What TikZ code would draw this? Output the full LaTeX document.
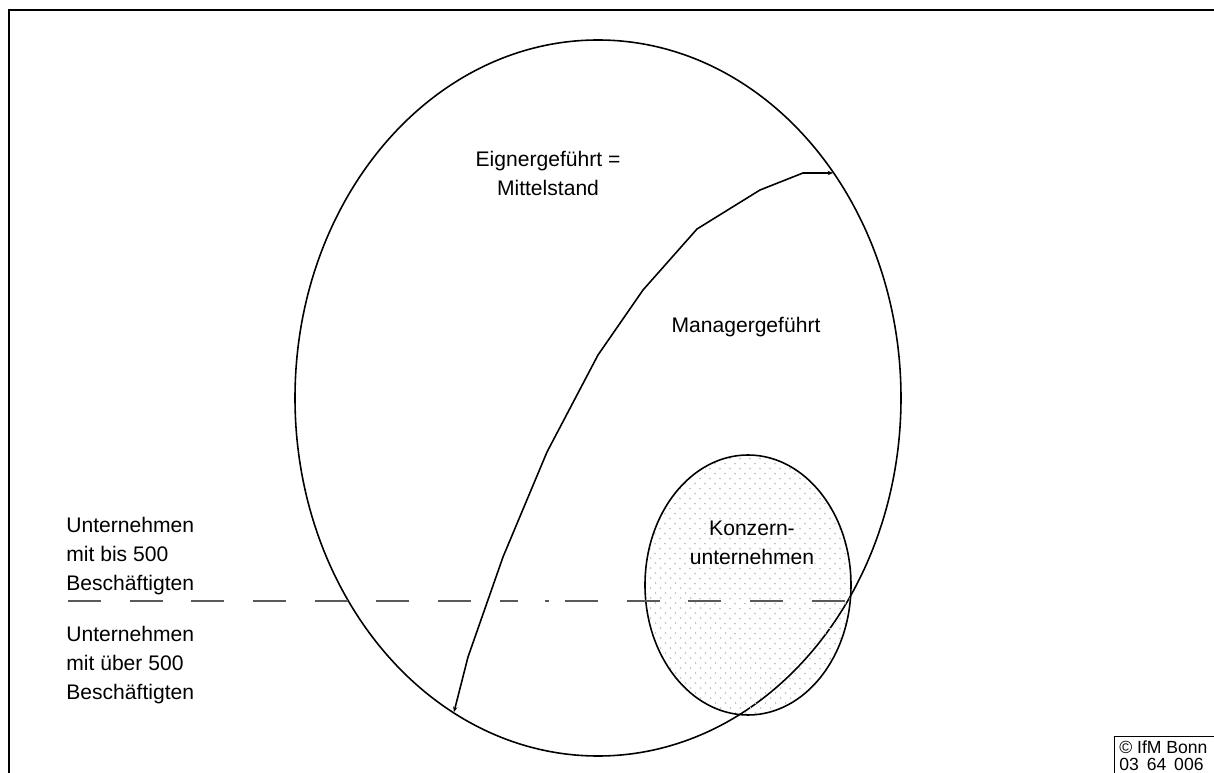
\documentclass[tikz,border=0pt]{standalone}
\usepackage{fontspec}
\setmainfont{Liberation Sans}
\usetikzlibrary{arrows.meta,patterns.meta}

\begin{document}
\begin{tikzpicture}[x=0.02cm,y=-0.02cm,
  txt/.style={font=\fontsize{12}{16.5}\selectfont,align=center,inner sep=0pt},
  ltxt/.style={txt,align=left,anchor=west},
  grenze/.style={line width=0.8pt,black!65,dash pattern=on 18.7pt off 16.4pt}]
\useasboundingbox (0,0) rectangle (1214,773);
% Rahmen
\draw[line width=1.1pt] (9,773) -- (9,10) -- (1214,10);
\draw[line width=0.5pt] (1114,773) -- (1114,736) -- (1214,736);
\node[anchor=north west,align=left,inner sep=0pt,font=\fontsize{10}{9.8}\selectfont] (ifm) at (1119,740) {© IfM Bonn\\03\hspace{.45em}64\hspace{.45em}006};
% Ellipsen
\draw[line width=0.9pt] (598,398) ellipse [x radius=303, y radius=358];
\draw[line width=0.9pt,pattern={Dots[distance=4pt,radius=0.6pt,angle=45]},pattern color=gray!45] (748,585) ellipse [x radius=103, y radius=130];
% Grenze 500 Beschaeftigte
\draw[grenze] (68,601) -- (502,601);
\draw[grenze,solid] (502,601) -- (518,601);
\draw[grenze,solid] (545,601) -- (549,601);
\draw[grenze] (565,601) -- (847,601);
% Trennlinie
\coordinate (unten) at (454,712);
\coordinate (oben) at (833,173);
\draw[line width=0.9pt,{Stealth[length=3pt,width=2.5pt]}-{Stealth[length=3pt,width=2.5pt]}]
  (unten) -- (468,657) -- (503,557) -- (547,452) -- (598,355) -- (643,290)
  -- (697,229) -- (760,190) -- (803,173) -- (oben);
% Texte
\node[txt] (eigner) at (548,173) {Eignergeführt =\\Mittelstand};
\node[txt] (manager) at (746,327) {Managergeführt};
\node[txt] (konzern) at (752,543) {Konzern-\\unternehmen};
\node[ltxt] (klein) at (66,556) {Unternehmen\\mit bis 500\\Beschäftigten};
\node[ltxt] (gross) at (66,665) {Unternehmen\\mit über 500\\Beschäftigten};
\end{tikzpicture}
\end{document}
